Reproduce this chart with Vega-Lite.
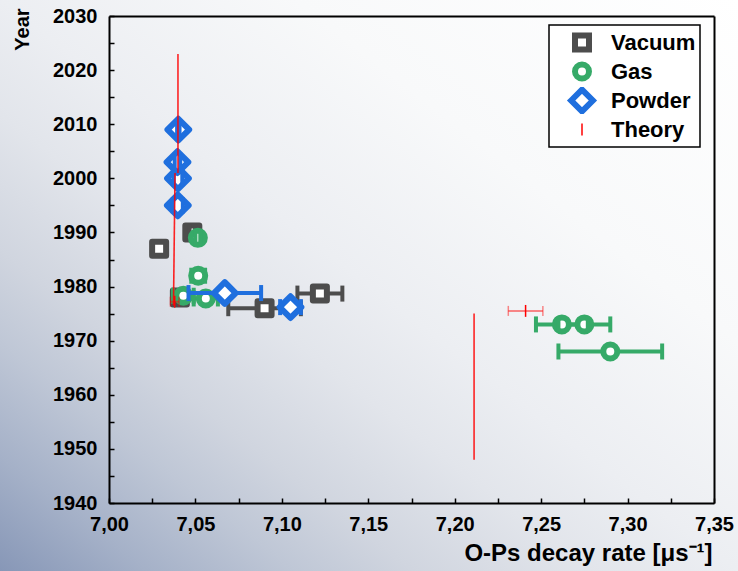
{
  "$schema": "https://vega.github.io/schema/vega-lite/v6.json",
  "width": 738,
  "height": 571,
  "autosize": "none",
  "padding": 0,
  "background": "#ffffff",
  "config": {
    "font": "Liberation Sans",
    "view": {
      "stroke": null,
      "fill": {
        "gradient": "linear",
        "x1": 1, "y1": 0, "x2": 0, "y2": 1,
        "stops": [
          {"offset": 0, "color": "#ffffff"},
          {"offset": 0.3, "color": "#f8f9fa"},
          {"offset": 0.5, "color": "#eceef2"},
          {"offset": 0.6, "color": "#e2e5eb"},
          {"offset": 0.72, "color": "#d0d5df"},
          {"offset": 0.8, "color": "#bfc7d6"},
          {"offset": 0.9, "color": "#a5b1c8"},
          {"offset": 1, "color": "#8797b7"}
        ]
      }
    },
    "axisBottom": {
      "offset": -68,
      "grid": false,
      "domainColor": "#000000",
      "domainWidth": 2,
      "tickColor": "#000000",
      "tickWidth": 1.5,
      "tickSize": -5,
      "labelFont": "Liberation Sans",
      "labelFontSize": 20,
      "labelFontWeight": "bold",
      "labelColor": "#000000",
      "labelPadding": 16,
      "labelFlush": false,
      "labelOverlap": false,
      "titleFont": "Liberation Sans",
      "titleFontSize": 24,
      "titleFontWeight": "bold",
      "titleColor": "#000000"
    },
    "axisLeft": {
      "offset": -109,
      "grid": false,
      "domainColor": "#000000",
      "domainWidth": 2,
      "tickColor": "#000000",
      "tickWidth": 1.5,
      "tickSize": -5,
      "labelFont": "Liberation Sans",
      "labelFontSize": 20,
      "labelFontWeight": "bold",
      "labelColor": "#000000",
      "labelPadding": 17,
      "labelFlush": false,
      "labelOverlap": false,
      "titleFont": "Liberation Sans",
      "titleFontSize": 20,
      "titleFontWeight": "bold",
      "titleColor": "#000000"
    },
    "axisTop": {"offset": -16, "ticks": false, "labels": false, "grid": false, "domainColor": "#000000", "domainWidth": 2},
    "axisRight": {"offset": -24, "ticks": false, "labels": false, "grid": false, "domainColor": "#000000", "domainWidth": 2}
  },
  "datasets": {
    "measurements": [
      {"type": "Vacuum", "rate": 7.029, "lo": null, "hi": null, "year": 1987},
      {"type": "Vacuum", "rate": 7.0482, "lo": 7.0466, "hi": 7.0498, "year": 1990},
      {"type": "Vacuum", "rate": 7.041, "lo": 7.038, "hi": 7.044, "year": 1978},
      {"type": "Vacuum", "rate": 7.09, "lo": 7.069, "hi": 7.111, "year": 1976},
      {"type": "Vacuum", "rate": 7.122, "lo": 7.109, "hi": 7.135, "year": 1978.7},
      {"type": "Gas", "rate": 7.29, "lo": 7.26, "hi": 7.32, "year": 1968},
      {"type": "Gas", "rate": 7.262, "lo": 7.247, "hi": 7.277, "year": 1973},
      {"type": "Gas", "rate": 7.275, "lo": 7.26, "hi": 7.29, "year": 1973},
      {"type": "Gas", "rate": 7.043, "lo": 7.037, "hi": 7.049, "year": 1978.3},
      {"type": "Gas", "rate": 7.056, "lo": 7.049, "hi": 7.063, "year": 1977.8},
      {"type": "Gas", "rate": 7.0516, "lo": 7.0476, "hi": 7.0556, "year": 1982},
      {"type": "Gas", "rate": 7.0514, "lo": 7.05, "hi": 7.0528, "year": 1989},
      {"type": "Powder", "rate": 7.067, "lo": 7.046, "hi": 7.088, "year": 1978.8},
      {"type": "Powder", "rate": 7.105, "lo": 7.099, "hi": 7.111, "year": 1976.2},
      {"type": "Powder", "rate": 7.0398, "lo": 7.0369, "hi": 7.0427, "year": 1995},
      {"type": "Powder", "rate": 7.0399, "lo": 7.0374, "hi": 7.0424, "year": 2000},
      {"type": "Powder", "rate": 7.0396, "lo": 7.038, "hi": 7.0412, "year": 2003},
      {"type": "Powder", "rate": 7.0401, "lo": 7.0394, "hi": 7.0408, "year": 2009},
      {"type": "Theory", "rate": 7.241, "lo": 7.231, "hi": 7.251, "year": 1975.5},
      {"type": "Theory", "rate": 7.038, "lo": 7.0355, "hi": 7.0405, "year": 1977.2}
    ],
    "theoryLines": [
      {"x": 7.2112, "x2": 7.2112, "y": 1948, "y2": 1975},
      {"x": 7.0382, "x2": 7.0373, "y": 2001, "y2": 1976.5},
      {"x": 7.0399, "x2": 7.0399, "y": 2001, "y2": 2023}
    ]
  },
  "encoding": {
    "x": {
      "field": "rate",
      "type": "quantitative",
      "scale": {"domain": [7.0, 7.35], "range": [109, 714], "nice": false, "zero": false},
      "axis": null
    },
    "y": {
      "field": "year",
      "type": "quantitative",
      "scale": {"domain": [1940, 2030], "range": [503, 16], "nice": false, "zero": false},
      "axis": null
    },
    "color": {
      "field": "type",
      "type": "nominal",
      "scale": {
        "domain": ["Vacuum", "Gas", "Powder", "Theory"],
        "range": ["#4d4d4d", "#36aa68", "#1f6fde", "#ff0000"]
      },
      "legend": {
        "orient": "none",
        "legendX": 549,
        "legendY": 25,
        "title": null,
        "fillColor": "#ffffff",
        "strokeColor": "#000000",
        "padding": 4,
        "rowPadding": 2,
        "clipHeight": 27,
        "symbolSize": 196,
        "symbolStrokeWidth": 6,
        "symbolOffset": 18,
        "labelOffset": 18,
        "labelFont": "Liberation Sans",
        "labelFontSize": 22,
        "labelFontWeight": "bold",
        "labelColor": "#000000",
        "encode": {
          "legend": {"update": {"strokeWidth": {"value": 1.5}}},
          "symbols": {"update": {"strokeWidth": {"signal": "datum.value === 'Theory' ? 1.5 : 6"}, "fill": {"value": "#ffffff"}}}
        }
      }
    }
  },
  "layer": [
    {
      "data": {"name": "measurements"},
      "layer": [
        {
          "transform": [{"filter": "datum.type === 'Vacuum'"}],
          "layer": [
            {"mark": {"type": "rule", "strokeWidth": 4}, "encoding": {"x": {"field": "lo", "type": "quantitative", "axis": null}, "x2": {"field": "hi"}}},
            {
              "mark": {"type": "point", "filled": false, "fill": "#ffffff", "opacity": 1, "size": 196, "strokeWidth": 6, "strokeJoin": "round"},
              "encoding": {"shape": {"field": "type", "type": "nominal", "scale": {"domain": ["Vacuum", "Gas", "Powder", "Theory"], "range": ["square", "circle", "M-1.55,0L0,-1.55L1.55,0L0,1.55Z", "M0,-0.85L0,0.85"]}}}
            },
            {"mark": {"type": "point", "shape": "M0,-1L0,1", "filled": false, "fill": "#ffffff", "opacity": 1, "size": 256, "strokeWidth": 4}, "encoding": {"x": {"field": "lo", "type": "quantitative", "axis": null}}},
            {"mark": {"type": "point", "shape": "M0,-1L0,1", "filled": false, "fill": "#ffffff", "opacity": 1, "size": 256, "strokeWidth": 4}, "encoding": {"x": {"field": "hi", "type": "quantitative", "axis": null}}}
          ]
        },
        {
          "transform": [{"filter": "datum.type === 'Gas'"}],
          "layer": [
            {"mark": {"type": "rule", "strokeWidth": 4}, "encoding": {"x": {"field": "lo", "type": "quantitative", "axis": null}, "x2": {"field": "hi"}}},
            {
              "mark": {"type": "point", "filled": false, "fill": "#ffffff", "opacity": 1, "size": 196, "strokeWidth": 6, "strokeJoin": "round"},
              "encoding": {"shape": {"field": "type", "type": "nominal", "scale": {"domain": ["Vacuum", "Gas", "Powder", "Theory"], "range": ["square", "circle", "M-1.55,0L0,-1.55L1.55,0L0,1.55Z", "M0,-0.85L0,0.85"]}}}
            },
            {"mark": {"type": "point", "shape": "M0,-1L0,1", "filled": false, "fill": "#ffffff", "opacity": 1, "size": 256, "strokeWidth": 4}, "encoding": {"x": {"field": "lo", "type": "quantitative", "axis": null}}},
            {"mark": {"type": "point", "shape": "M0,-1L0,1", "filled": false, "fill": "#ffffff", "opacity": 1, "size": 256, "strokeWidth": 4}, "encoding": {"x": {"field": "hi", "type": "quantitative", "axis": null}}}
          ]
        },
        {
          "transform": [{"filter": "datum.type === 'Powder'"}],
          "layer": [
            {"mark": {"type": "rule", "strokeWidth": 4}, "encoding": {"x": {"field": "lo", "type": "quantitative", "axis": null}, "x2": {"field": "hi"}}},
            {
              "mark": {"type": "point", "filled": false, "fill": "#ffffff", "opacity": 1, "size": 196, "strokeWidth": 6, "strokeJoin": "round"},
              "encoding": {"shape": {"field": "type", "type": "nominal", "scale": {"domain": ["Vacuum", "Gas", "Powder", "Theory"], "range": ["square", "circle", "M-1.55,0L0,-1.55L1.55,0L0,1.55Z", "M0,-0.85L0,0.85"]}}}
            },
            {"mark": {"type": "point", "shape": "M0,-1L0,1", "filled": false, "fill": "#ffffff", "opacity": 1, "size": 256, "strokeWidth": 4}, "encoding": {"x": {"field": "lo", "type": "quantitative", "axis": null}}},
            {"mark": {"type": "point", "shape": "M0,-1L0,1", "filled": false, "fill": "#ffffff", "opacity": 1, "size": 256, "strokeWidth": 4}, "encoding": {"x": {"field": "hi", "type": "quantitative", "axis": null}}}
          ]
        },
        {
          "transform": [{"filter": "datum.type === 'Theory'"}],
          "layer": [
            {"mark": {"type": "rule", "strokeWidth": 2, "opacity": 0.45}, "encoding": {"x": {"field": "lo", "type": "quantitative", "axis": null}, "x2": {"field": "hi"}}},
            {"mark": {"type": "point", "shape": "M0,-1L0,1", "filled": false, "fill": "#ffffff", "opacity": 0.45, "size": 100, "strokeWidth": 1.5}, "encoding": {"x": {"field": "lo", "type": "quantitative", "axis": null}}},
            {"mark": {"type": "point", "shape": "M0,-1L0,1", "filled": false, "fill": "#ffffff", "opacity": 0.45, "size": 100, "strokeWidth": 1.5}, "encoding": {"x": {"field": "hi", "type": "quantitative", "axis": null}}}
          ]
        }
      ]
    },
    {
      "data": {"name": "measurements"},
      "transform": [{"filter": "datum.type === 'Theory'"}],
      "mark": {"type": "point", "filled": false, "fill": "#ffffff", "opacity": 1, "size": 196, "strokeWidth": 1.5},
      "encoding": {
        "x": {
          "field": "rate",
          "type": "quantitative",
          "scale": {"domain": [7.0, 7.35], "range": [109, 714], "nice": false, "zero": false},
          "axis": {
            "orient": "bottom",
            "values": [7.0, 7.025, 7.05, 7.075, 7.1, 7.125, 7.15, 7.175, 7.2, 7.225, 7.25, 7.275, 7.3, 7.325, 7.35],
            "labelExpr": "round(datum.value * 1000) % 50 === 0 ? replace(format(datum.value, '.2f'), '.', ',') : ''",
            "title": "O-Ps decay rate [μs⁻¹]",
            "titleX": 712,
            "titleY": 50,
            "titleAlign": "right",
            "titleBaseline": "middle"
          }
        },
        "y": {
          "field": "year",
          "type": "quantitative",
          "scale": {"domain": [1940, 2030], "range": [503, 16], "nice": false, "zero": false},
          "axis": {
            "orient": "left",
            "values": [1940, 1945, 1950, 1955, 1960, 1965, 1970, 1975, 1980, 1985, 1990, 1995, 2000, 2005, 2010, 2015, 2020, 2025, 2030],
            "labelExpr": "datum.value % 10 === 0 ? format(datum.value, 'd') : ''",
            "title": "Year",
            "titleAngle": -90,
            "titleX": -87,
            "titleY": 29,
            "titleAlign": "center",
            "titleBaseline": "middle"
          }
        },
        "shape": {"field": "type", "type": "nominal", "scale": {"domain": ["Vacuum", "Gas", "Powder", "Theory"], "range": ["square", "circle", "M-1.55,0L0,-1.55L1.55,0L0,1.55Z", "M0,-0.85L0,0.85"]}}
      }
    },
    {
      "data": {"name": "theoryLines"},
      "mark": {"type": "rule", "strokeWidth": 1.6, "opacity": 0.85},
      "encoding": {
        "x": {"field": "x", "type": "quantitative", "axis": {"orient": "top", "title": null}},
        "x2": {"field": "x2"},
        "y": {"field": "y", "type": "quantitative", "axis": {"orient": "right", "title": null}},
        "y2": {"field": "y2"},
        "color": {"value": "#ff0000"}
      }
    }
  ],
  "resolve": {"axis": {"x": "independent", "y": "independent"}}
}
